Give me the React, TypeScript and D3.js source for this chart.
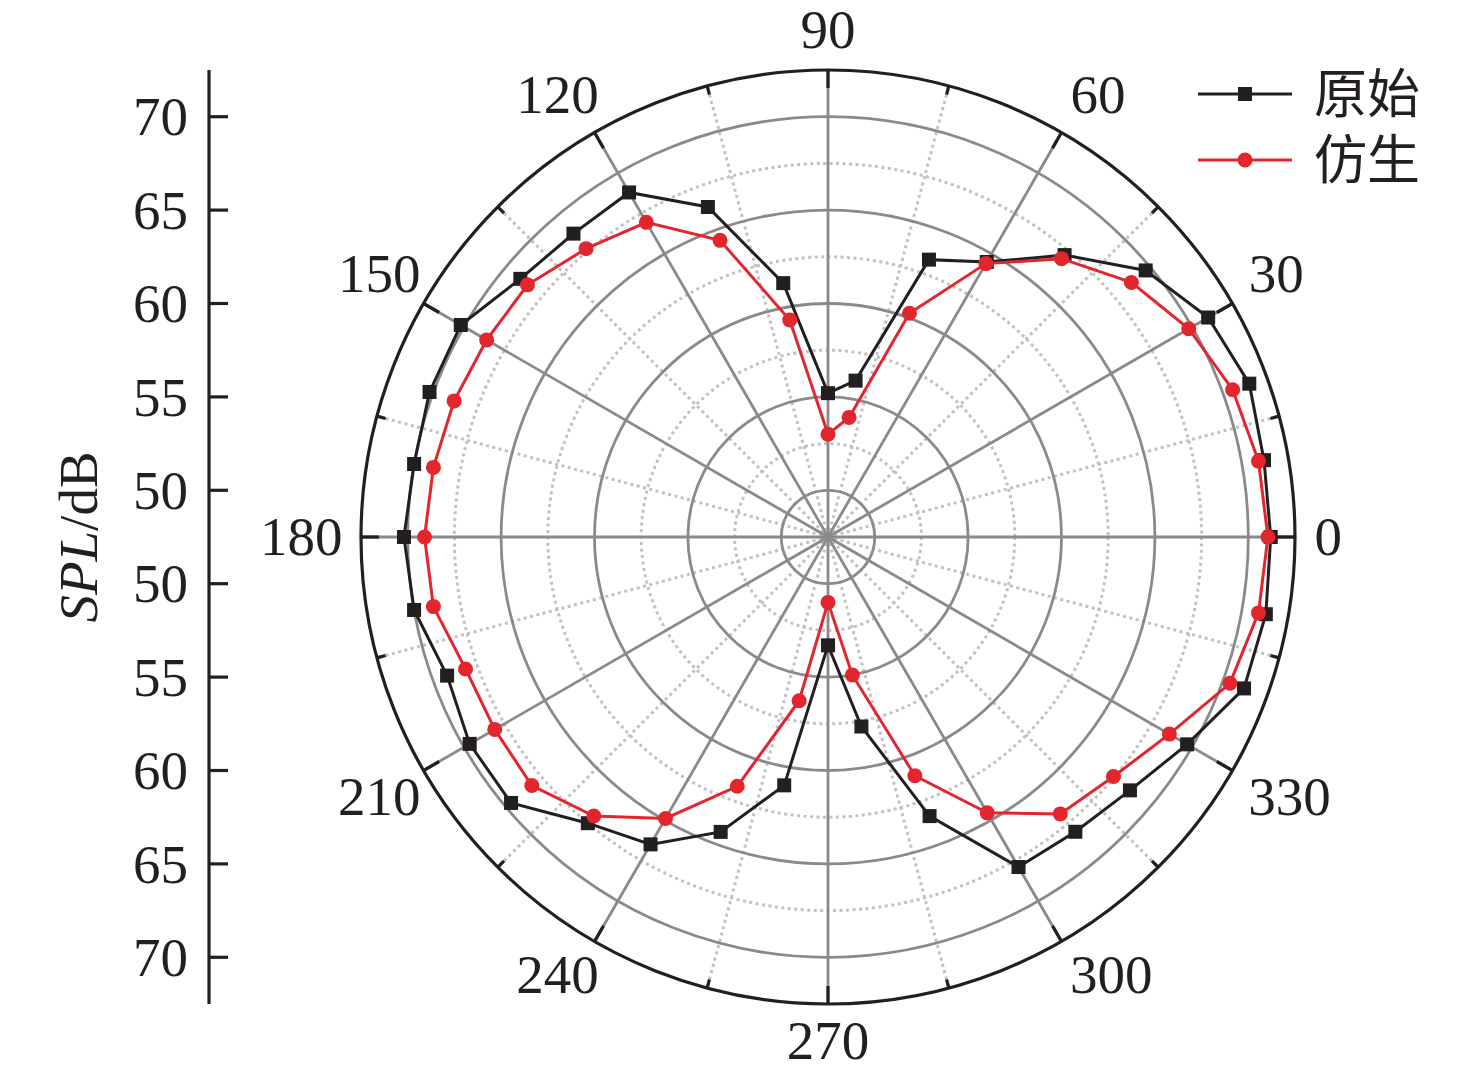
import React, { useEffect, useRef } from "react";
import * as d3 from "d3";

// angle in degrees, SPL in dB
const angles = [0, 10, 20, 30, 40, 50, 60, 70, 80, 90, 100, 110, 120, 130, 140, 150, 160, 170,
  180, 190, 200, 210, 220, 230, 240, 250, 260, 270, 280, 290, 300, 310, 320, 330, 340, 350];
const yuanshi = [71.2, 71.2, 71.5, 71.0, 69.7, 67.2, 64.5, 63.3, 56.0, 55.2, 61.3, 66.3, 68.8, 68.7,
  69.0, 70.2, 70.2, 70.0, 70.2, 70.0, 69.2, 69.65, 69.65, 67.5, 66.5, 64.3, 61.0, 53.3, 57.8, 63.4,
  67.9, 68.1, 68.6, 69.7, 71.2, 71.3];
const fangsheng = [71.05, 70.9, 70.55, 69.8, 68.7, 66.95, 64.4, 60.25, 54.0, 53.0, 59.3, 64.4, 66.95,
  67.65, 68.5, 68.6, 68.8, 68.95, 69.1, 68.95, 68.15, 68.1, 68.2, 67.0, 64.9, 61.7, 56.4, 51.0, 55.0,
  61.1, 64.55, 66.85, 67.45, 68.6, 70.4, 70.9];
const seriesNames = ["原始", "仿生"];
const radialTicks = [50, 55, 60, 65, 70];
const radialMinor = [52.5, 57.5, 62.5, 67.5];
const angleMajor = [0, 30, 60, 90, 120, 150, 180, 210, 240, 270, 300, 330];
const angleMinor = [15, 45, 75, 105, 135, 165, 195, 225, 255, 285, 315, 345];

const W = 1476;
const H = 1074;
const CX = 828;
const CY = 537;
const R = 467;
const INK = "#231f20";
const RED = "#e3262d";
const SERIF = "'Liberation Serif', 'Times New Roman', serif";
const FS = 55;

const App: React.FC = () => {
  const svgRef = useRef<SVGSVGElement>(null);

  useEffect(() => {
    if (!svgRef.current) return;
    const svg = d3.select(svgRef.current);
    svg.selectAll("*").remove();

    const r = d3.scaleLinear().domain([47.5, 72.5]).range([0, R]);
    const rad = (a: number) => (a * Math.PI) / 180;

    const g = svg.append("g").attr("transform", `translate(${CX},${CY})`);

    // dotted grid
    g.selectAll("circle.minor")
      .data(radialMinor)
      .enter()
      .append("circle")
      .attr("r", (d) => r(d))
      .attr("fill", "none")
      .attr("stroke", "#c2c2c2")
      .attr("stroke-width", 3)
      .attr("stroke-dasharray", "3,3.5");
    g.selectAll("line.minor")
      .data(angleMinor)
      .enter()
      .append("line")
      .attr("x2", (d) => R * Math.cos(rad(d)))
      .attr("y2", (d) => -R * Math.sin(rad(d)))
      .attr("stroke", "#c2c2c2")
      .attr("stroke-width", 3)
      .attr("stroke-dasharray", "3,3.5");

    // solid grid
    g.selectAll("circle.major")
      .data(radialTicks)
      .enter()
      .append("circle")
      .attr("r", (d) => r(d))
      .attr("fill", "none")
      .attr("stroke", "#8a8a8a")
      .attr("stroke-width", 2.8);
    g.selectAll("line.major")
      .data(angleMajor)
      .enter()
      .append("line")
      .attr("x2", (d) => R * Math.cos(rad(d)))
      .attr("y2", (d) => -R * Math.sin(rad(d)))
      .attr("stroke", "#8a8a8a")
      .attr("stroke-width", 2.8);

    // outer circle + ticks
    g.append("circle")
      .attr("r", R)
      .attr("fill", "none")
      .attr("stroke", INK)
      .attr("stroke-width", 3.2);
    const tick = (list: number[], len: number) =>
      g.selectAll(null)
        .data(list)
        .enter()
        .append("line")
        .attr("x1", (d) => (R - len) * Math.cos(rad(d)))
        .attr("y1", (d) => -(R - len) * Math.sin(rad(d)))
        .attr("x2", (d) => R * Math.cos(rad(d)))
        .attr("y2", (d) => -R * Math.sin(rad(d)))
        .attr("stroke", INK)
        .attr("stroke-width", 3.2);
    tick(angleMajor, 18);
    tick(angleMinor, 9);

    // angle labels: anchor point just outside the circle, box pushed away from it
    const labelPos = (d: number): [number, number] => {
      const c = Math.cos(rad(d));
      const s = Math.sin(rad(d));
      const w = String(d).length * 26.5;
      let dx = 0;
      if (c > 0.01) dx = w / 2;
      else if (c < -0.01) dx = -(w / 2) * (Math.abs(s) > 0.01 ? 0.68 : 1);
      let dy = 0;
      if (s > 0.01) dy = -20;
      else if (s < -0.01) dy = 16.5;
      return [487 * c + dx, -487 * s + dy];
    };
    g.selectAll("text.ang")
      .data(angleMajor)
      .enter()
      .append("text")
      .attr("x", (d) => labelPos(d)[0])
      .attr("y", (d) => labelPos(d)[1])
      .attr("dy", "0.33em")
      .attr("text-anchor", "middle")
      .attr("font-family", SERIF)
      .attr("font-size", FS)
      .attr("fill", INK)
      .text((d) => String(d));

    // series
    const line = d3
      .lineRadial<number>()
      .angle((_, i) => Math.PI / 2 - rad(angles[i]))
      .radius((d) => r(d))
      .curve(d3.curveLinearClosed);

    g.append("path")
      .attr("d", line(yuanshi))
      .attr("fill", "none")
      .attr("stroke", INK)
      .attr("stroke-width", 3);
    g.selectAll("rect.pt")
      .data(yuanshi)
      .enter()
      .append("rect")
      .attr("x", (d, i) => r(d) * Math.cos(rad(angles[i])) - 7)
      .attr("y", (d, i) => -r(d) * Math.sin(rad(angles[i])) - 7)
      .attr("width", 14)
      .attr("height", 14)
      .attr("fill", INK);

    g.append("path")
      .attr("d", line(fangsheng))
      .attr("fill", "none")
      .attr("stroke", RED)
      .attr("stroke-width", 3);
    g.selectAll("circle.pt")
      .data(fangsheng)
      .enter()
      .append("circle")
      .attr("cx", (d, i) => r(d) * Math.cos(rad(angles[i])))
      .attr("cy", (d, i) => -r(d) * Math.sin(rad(angles[i])))
      .attr("r", 7.5)
      .attr("fill", RED);

    // left radial axis (mirrored about the centre)
    const yTop = d3.scaleLinear().domain([47.5, 72.5]).range([CY, CY - R]);
    const yBot = d3.scaleLinear().domain([47.5, 72.5]).range([CY, CY + R]);
    const ax = svg.append("g");
    const AX = 209;
    ax.append("line")
      .attr("x1", AX)
      .attr("x2", AX)
      .attr("y1", CY - R)
      .attr("y2", CY + R)
      .attr("stroke", INK)
      .attr("stroke-width", 3.2);
    [yTop, yBot].forEach((s) => {
      ax.selectAll(null)
        .data(radialTicks)
        .enter()
        .append("line")
        .attr("x1", AX)
        .attr("x2", AX + 19)
        .attr("y1", (d) => s(d))
        .attr("y2", (d) => s(d))
        .attr("stroke", INK)
        .attr("stroke-width", 3.2);
      ax.selectAll(null)
        .data(radialTicks)
        .enter()
        .append("text")
        .attr("x", AX - 21)
        .attr("y", (d) => s(d))
        .attr("dy", "0.34em")
        .attr("text-anchor", "end")
        .attr("font-family", SERIF)
        .attr("font-size", FS)
        .attr("fill", INK)
        .text((d) => String(d));
    });

    const lab = svg
      .append("text")
      .attr("transform", `translate(97,${CY}) rotate(-90)`)
      .attr("text-anchor", "middle")
      .attr("font-family", SERIF)
      .attr("font-size", FS)
      .attr("fill", INK);
    lab.append("tspan").attr("font-style", "italic").text("SPL");
    lab.append("tspan").text("/dB");

    // legend
    const leg = svg.append("g");
    const legY = [94, 160];
    seriesNames.forEach((name, i) => {
      const col = i === 0 ? INK : RED;
      leg.append("line")
        .attr("x1", 1198)
        .attr("x2", 1292)
        .attr("y1", legY[i])
        .attr("y2", legY[i])
        .attr("stroke", col)
        .attr("stroke-width", 3);
      if (i === 0) {
        leg.append("rect")
          .attr("x", 1245 - 7)
          .attr("y", legY[i] - 7)
          .attr("width", 14)
          .attr("height", 14)
          .attr("fill", col);
      } else {
        leg.append("circle").attr("cx", 1245).attr("cy", legY[i]).attr("r", 7.5).attr("fill", col);
      }
      // serif first so the line box stays compact; CJK glyphs fall back to Noto
      leg.append("text")
        .attr("x", 1314)
        .attr("y", legY[i] + 19)
        .attr("font-family", "'Liberation Serif', 'Noto Sans CJK SC', sans-serif")
        .attr("font-size", 53)
        .attr("fill", INK)
        .text(name);
    });
  }, []);

  return (
    <svg
      ref={svgRef}
      width={W}
      height={H}
      style={{ position: "absolute", left: 0, top: 0, background: "#fff" }}
    />
  );
};

export default App;
